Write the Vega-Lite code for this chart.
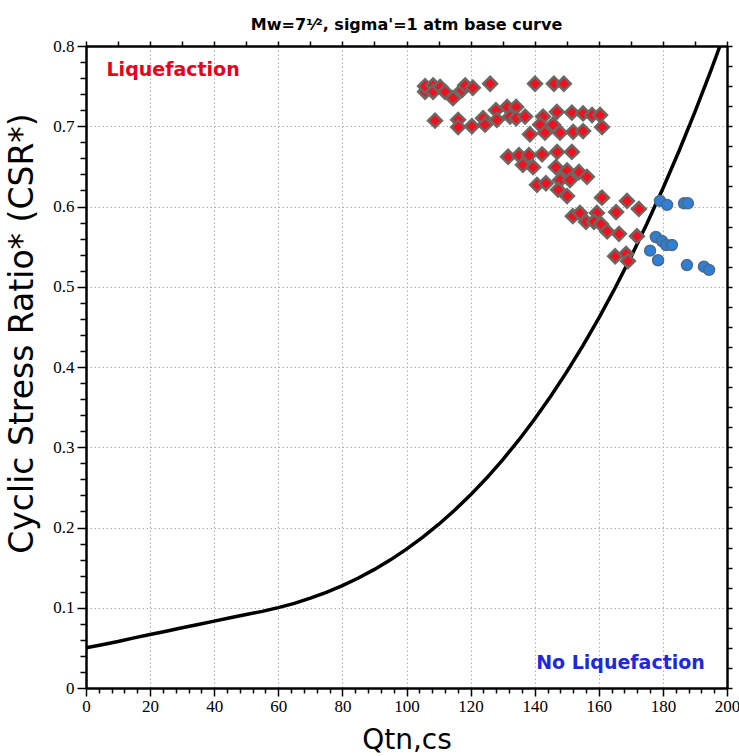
{
  "$schema": "https://vega.github.io/schema/vega-lite/v6.json",
  "autosize": {"type": "none"},
  "width": 641,
  "height": 642,
  "padding": {"left": 86, "top": 46, "right": 12, "bottom": 68},
  "background": "white",
  "config": {"view": {"stroke": null}},
  "title": {"text": "Mw=7¹⁄², sigma'=1 atm base curve", "font": "DejaVu Sans", "fontSize": 16, "fontWeight": "bold", "color": "black", "offset": -9, "baseline": "alphabetic"},
  "datasets": {
    "curve": [
      {"q": 0, "csr": 0.050}, {"q": 5, "csr": 0.054}, {"q": 10, "csr": 0.058}, {"q": 15, "csr": 0.0625},
      {"q": 20, "csr": 0.0667}, {"q": 25, "csr": 0.0708}, {"q": 30, "csr": 0.075}, {"q": 35, "csr": 0.0792},
      {"q": 40, "csr": 0.0833}, {"q": 45, "csr": 0.0875}, {"q": 50, "csr": 0.0916}, {"q": 55, "csr": 0.0955},
      {"q": 60, "csr": 0.1001}, {"q": 65, "csr": 0.1055}, {"q": 70, "csr": 0.1119}, {"q": 75, "csr": 0.1192},
      {"q": 80, "csr": 0.1276}, {"q": 85, "csr": 0.1371}, {"q": 90, "csr": 0.1478}, {"q": 95, "csr": 0.1597},
      {"q": 100, "csr": 0.173}, {"q": 105, "csr": 0.1877}, {"q": 110, "csr": 0.2038}, {"q": 115, "csr": 0.2214},
      {"q": 120, "csr": 0.2407}, {"q": 125, "csr": 0.2616}, {"q": 130, "csr": 0.2843}, {"q": 135, "csr": 0.3088},
      {"q": 140, "csr": 0.3352}, {"q": 145, "csr": 0.3635}, {"q": 150, "csr": 0.3939}, {"q": 155, "csr": 0.4263},
      {"q": 160, "csr": 0.4609}, {"q": 165, "csr": 0.4978}, {"q": 170, "csr": 0.5369}, {"q": 175, "csr": 0.5784},
      {"q": 180, "csr": 0.6224}, {"q": 185, "csr": 0.6688}, {"q": 190, "csr": 0.7179}, {"q": 195, "csr": 0.7696},
      {"q": 197.8, "csr": 0.8}
    ],
    "liq": [
      {"q": 105.8, "csr": 0.743}, {"q": 105.8, "csr": 0.750}, {"q": 108.3, "csr": 0.751}, {"q": 108.3, "csr": 0.743},
      {"q": 110.5, "csr": 0.749}, {"q": 112.0, "csr": 0.743}, {"q": 114.5, "csr": 0.735}, {"q": 117.3, "csr": 0.745},
      {"q": 118.3, "csr": 0.751}, {"q": 120.7, "csr": 0.748}, {"q": 126.1, "csr": 0.753}, {"q": 140.1, "csr": 0.753},
      {"q": 146.0, "csr": 0.753}, {"q": 149.1, "csr": 0.753},
      {"q": 108.9, "csr": 0.707}, {"q": 116.1, "csr": 0.708}, {"q": 116.1, "csr": 0.699}, {"q": 120.4, "csr": 0.700},
      {"q": 123.9, "csr": 0.710}, {"q": 124.5, "csr": 0.702}, {"q": 127.9, "csr": 0.720}, {"q": 128.2, "csr": 0.708},
      {"q": 131.4, "csr": 0.724}, {"q": 132.3, "csr": 0.712}, {"q": 134.2, "csr": 0.724}, {"q": 134.2, "csr": 0.710},
      {"q": 137.0, "csr": 0.712}, {"q": 142.6, "csr": 0.712}, {"q": 141.7, "csr": 0.702}, {"q": 145.7, "csr": 0.702},
      {"q": 146.9, "csr": 0.718}, {"q": 151.6, "csr": 0.717}, {"q": 155.1, "csr": 0.716}, {"q": 157.9, "csr": 0.714},
      {"q": 160.4, "csr": 0.714}, {"q": 161.0, "csr": 0.699}, {"q": 147.9, "csr": 0.692}, {"q": 152.0, "csr": 0.693},
      {"q": 155.1, "csr": 0.694}, {"q": 143.2, "csr": 0.692}, {"q": 138.5, "csr": 0.690},
      {"q": 131.7, "csr": 0.662}, {"q": 135.1, "csr": 0.664}, {"q": 138.2, "csr": 0.664}, {"q": 142.3, "csr": 0.665},
      {"q": 147.0, "csr": 0.668}, {"q": 151.6, "csr": 0.668}, {"q": 136.3, "csr": 0.652}, {"q": 139.5, "csr": 0.649},
      {"q": 146.6, "csr": 0.649}, {"q": 150.1, "csr": 0.645}, {"q": 153.8, "csr": 0.643}, {"q": 156.3, "csr": 0.637},
      {"q": 147.9, "csr": 0.633}, {"q": 151.0, "csr": 0.633}, {"q": 140.7, "csr": 0.627}, {"q": 143.5, "csr": 0.629},
      {"q": 147.3, "csr": 0.621}, {"q": 150.1, "csr": 0.613},
      {"q": 161.0, "csr": 0.611}, {"q": 168.8, "csr": 0.607}, {"q": 172.5, "csr": 0.597}, {"q": 165.4, "csr": 0.593},
      {"q": 151.9, "csr": 0.588}, {"q": 154.1, "csr": 0.592}, {"q": 156.0, "csr": 0.581}, {"q": 159.4, "csr": 0.592},
      {"q": 158.5, "csr": 0.581}, {"q": 160.7, "csr": 0.578}, {"q": 162.6, "csr": 0.569}, {"q": 166.3, "csr": 0.566},
      {"q": 171.9, "csr": 0.563}, {"q": 165.1, "csr": 0.538}, {"q": 168.5, "csr": 0.541}, {"q": 169.1, "csr": 0.532}
    ],
    "noliq": [
      {"q": 179.1, "csr": 0.607}, {"q": 181.3, "csr": 0.602}, {"q": 186.6, "csr": 0.604}, {"q": 187.8, "csr": 0.604},
      {"q": 177.8, "csr": 0.562}, {"q": 179.7, "csr": 0.557}, {"q": 181.0, "csr": 0.552}, {"q": 182.8, "csr": 0.552},
      {"q": 176.0, "csr": 0.545}, {"q": 178.5, "csr": 0.533}, {"q": 187.5, "csr": 0.527}, {"q": 192.8, "csr": 0.525},
      {"q": 194.4, "csr": 0.521}
    ],
    "labels": [
      {"label": "Liquefaction", "q": 6.4, "csr": 0.7626, "kind": "liq"},
      {"label": "No Liquefaction", "q": 193.1, "csr": 0.0237, "kind": "noliq"}
    ]
  },
  "resolve": {"axis": {"x": "independent", "y": "independent"}},
  "layer": [
    {
      "data": {"name": "curve"},
      "mark": {"type": "line", "color": "black", "strokeWidth": 3.5, "clip": true},
      "encoding": {
        "x": {"field": "q", "type": "quantitative",
          "scale": {"domain": [0, 200], "nice": false, "zero": false},
          "axis": {"orient": "bottom", "values": [0, 20, 40, 60, 80, 100, 120, 140, 160, 180, 200], "format": "d",
            "grid": true, "gridDash": [1.5, 2.5], "gridColor": "#b0b0b0", "gridWidth": 1,
            "tickSize": 8, "tickWidth": 1.5, "tickColor": "black",
            "domainColor": "black", "domainWidth": 2.5,
            "labelFont": "Liberation Serif", "labelFontSize": 17, "labelColor": "black", "labelPadding": 2, "labelFlush": false,
            "title": "Qtn,cs", "titleFont": "DejaVu Sans", "titleFontSize": 28, "titleFontWeight": "normal", "titleColor": "black",
            "titleY": 60, "titleBaseline": "alphabetic"}},
        "y": {"field": "csr", "type": "quantitative",
          "scale": {"domain": [0, 0.8], "nice": false, "zero": false},
          "axis": {"orient": "left", "values": [0, 0.1, 0.2, 0.3, 0.4, 0.5, 0.6, 0.7, 0.8], "format": "~g",
            "grid": true, "gridDash": [1.5, 2.5], "gridColor": "#b0b0b0", "gridWidth": 1,
            "tickSize": 9, "tickWidth": 1.5, "tickColor": "black",
            "domainColor": "black", "domainWidth": 2.5,
            "labelFont": "Liberation Serif", "labelFontSize": 17, "labelColor": "black", "labelPadding": 3, "labelFlush": false,
            "title": "Cyclic Stress Ratio* (CSR*)", "titleFont": "DejaVu Sans", "titleFontSize": 33, "titleFontWeight": "normal", "titleColor": "black",
            "titleAngle": 270, "titleBaseline": "alphabetic", "titleX": -54, "titleY": 287}}
      }
    },
    {
      "data": {"name": "liq"},
      "mark": {"type": "point", "shape": "diamond", "filled": true, "size": 190, "fill": "#f01020", "stroke": "#6b6862", "strokeWidth": 2.5, "opacity": 1},
      "encoding": {
        "x": {"field": "q", "type": "quantitative",
          "axis": {"orient": "bottom", "values": [4, 8, 12, 16, 24, 28, 32, 36, 44, 48, 52, 56, 64, 68, 72, 76, 84, 88, 92, 96, 104, 108, 112, 116, 124, 128, 132, 136, 144, 148, 152, 156, 164, 168, 172, 176, 184, 188, 192, 196],
            "grid": false, "labels": false, "domain": false, "title": null, "tickSize": 5, "tickWidth": 1.5, "tickColor": "black"}},
        "y": {"field": "csr", "type": "quantitative",
          "axis": {"orient": "left", "values": [0.02, 0.04, 0.06, 0.08, 0.12, 0.14, 0.16, 0.18, 0.22, 0.24, 0.26, 0.28, 0.32, 0.34, 0.36, 0.38, 0.42, 0.44, 0.46, 0.48, 0.52, 0.54, 0.56, 0.58, 0.62, 0.64, 0.66, 0.68, 0.72, 0.74, 0.76, 0.78],
            "grid": false, "labels": false, "domain": false, "title": null, "tickSize": 6, "tickWidth": 1.5, "tickColor": "black"}}
      }
    },
    {
      "data": {"name": "noliq"},
      "mark": {"type": "point", "shape": "circle", "filled": true, "size": 120, "fill": "#2f7fd6", "stroke": "#4d6a86", "strokeWidth": 1.5, "opacity": 1},
      "encoding": {
        "x": {"field": "q", "type": "quantitative",
          "axis": {"orient": "top", "values": [0, 10, 20, 30, 40, 50, 60, 70, 80, 90, 100, 110, 120, 130, 140, 150, 160, 170, 180, 190, 200],
            "grid": false, "labels": false, "domain": true, "domainColor": "black", "domainWidth": 2.5, "title": null, "tickSize": 5, "tickWidth": 1.5, "tickColor": "black"}},
        "y": {"field": "csr", "type": "quantitative",
          "axis": {"orient": "right", "values": [0, 0.025, 0.05, 0.075, 0.1, 0.125, 0.15, 0.175, 0.2, 0.225, 0.25, 0.275, 0.3, 0.325, 0.35, 0.375, 0.4, 0.425, 0.45, 0.475, 0.5, 0.525, 0.55, 0.575, 0.6, 0.625, 0.65, 0.675, 0.7, 0.725, 0.75, 0.775, 0.8],
            "grid": false, "labels": false, "domain": true, "domainColor": "black", "domainWidth": 2.5, "title": null, "tickSize": 5, "tickWidth": 1.5, "tickColor": "black"}}
      }
    },
    {
      "data": {"name": "labels"},
      "transform": [{"filter": "datum.kind == 'liq'"}],
      "mark": {"type": "text", "align": "left", "baseline": "alphabetic", "font": "DejaVu Sans", "fontWeight": "bold", "fontSize": 19, "color": "#e8001c"},
      "encoding": {
        "x": {"field": "q", "type": "quantitative", "axis": null},
        "y": {"field": "csr", "type": "quantitative", "axis": null},
        "text": {"field": "label"}
      }
    },
    {
      "data": {"name": "labels"},
      "transform": [{"filter": "datum.kind == 'noliq'"}],
      "mark": {"type": "text", "align": "right", "baseline": "alphabetic", "font": "DejaVu Sans", "fontWeight": "bold", "fontSize": 19, "color": "#1e28dc"},
      "encoding": {
        "x": {"field": "q", "type": "quantitative", "axis": null},
        "y": {"field": "csr", "type": "quantitative", "axis": null},
        "text": {"field": "label"}
      }
    }
  ]
}
